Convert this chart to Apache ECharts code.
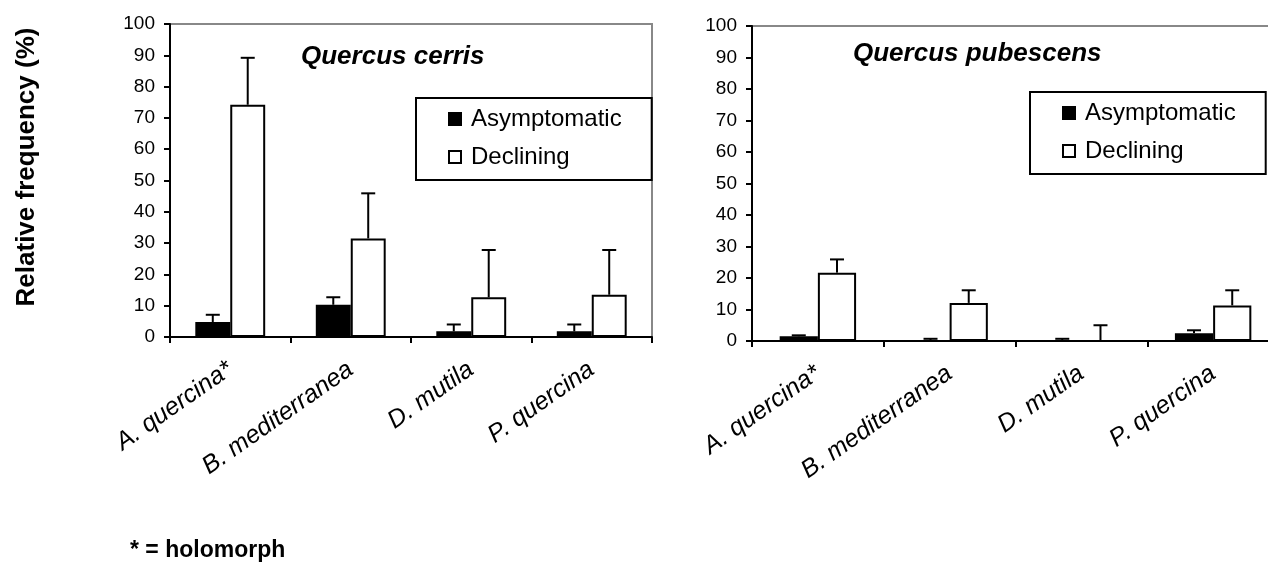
<!DOCTYPE html>
<html>
<head>
<meta charset="utf-8">
<script src="https://cdn.jsdelivr.net/npm/echarts@6/dist/echarts.min.js"></script>
<style>
  html, body { margin: 0; padding: 0; background: #fff; }
  #chart { width: 1268px; height: 567px; }
</style>
</head>
<body>
<div id="chart"></div>
<script>
// data
var categories = ['A. quercina*', 'B. mediterranea', 'D. mutila', 'P. quercina'];
var yTicks = [0, 10, 20, 30, 40, 50, 60, 70, 80, 90, 100];

// Quercus cerris
var cerrisAsym = [4.8, 10.3, 1.8, 1.8];
var cerrisAsymErr = [2.3, 2.4, 2.2, 2.2];
var cerrisDecl = [74.2, 31.5, 12.7, 13.5];
var cerrisDeclErr = [15.0, 14.4, 15.1, 14.3];

// Quercus pubescens
var pubAsym = [1.5, 0, 0, 2.5];
var pubAsymErr = [0.3, 0.7, 0.7, 0.9];
var pubDecl = [21.7, 12.1, 0, 11.3];
var pubDeclErr = [4.2, 4.0, 5.0, 4.8];

var FONT = "'Liberation Sans', Arial, sans-serif";

var errData = function (vals, errs, side) {
  var out = [];
  for (var i = 0; i < vals.length; i++) {
    out.push([i, vals[i] + errs[i], vals[i], side]);
  }
  return out;
};

// upper error bar only, drawn over the bar of one side
var renderErr = function (params, api) {
  var cat = api.value(0);
  var w = api.size([1, 0])[0];
  var x = api.coord([cat, 0])[0] + api.value(3) * w * 0.145;
  var yTop = api.coord([cat, api.value(1)])[1];
  var yBase = api.coord([cat, api.value(2)])[1];
  var st = { stroke: '#000', lineWidth: 2 };
  return {
    type: 'group',
    children: [
      { type: 'line', shape: { x1: x, y1: yBase, x2: x, y2: yTop }, style: st },
      { type: 'line', shape: { x1: x - 7, y1: yTop, x2: x + 7, y2: yTop }, style: st }
    ]
  };
};

var xAxisFor = function (idx) {
  return {
    type: 'category', gridIndex: idx, data: categories,
    axisLine: { lineStyle: { color: '#000', width: 2 } },
    axisTick: { show: true, length: 6, lineStyle: { color: '#000', width: 2 } },
    axisLabel: {
      interval: 0, rotate: 35, margin: 30, color: '#000',
      fontSize: 25, fontStyle: 'italic', fontFamily: FONT
    }
  };
};

var yAxisFor = function (idx) {
  return {
    type: 'value', gridIndex: idx, min: yTicks[0], max: yTicks[yTicks.length - 1], interval: 10,
    splitLine: { show: false },
    axisLine: { show: true, lineStyle: { color: '#000', width: 2 } },
    axisTick: { show: true, length: 6, lineStyle: { color: '#000', width: 2 } },
    axisLabel: { color: '#000', fontSize: 19, fontFamily: FONT, margin: 15 }
  };
};

var asymStyle = { color: '#000', borderColor: '#000', borderWidth: 2 };
var declStyle = { color: '#fff', borderColor: '#000', borderWidth: 2 };

var legendFor = function (left, top) {
  return {
    left: left, top: top, orient: 'vertical',
    data: ['Asymptomatic', 'Declining'],
    icon: 'rect', itemWidth: 12, itemHeight: 12, itemGap: 14,
    padding: [9, 30, 11, 32],
    borderColor: '#000', borderWidth: 2,
    textStyle: { color: '#000', fontSize: 24, fontFamily: FONT, padding: [0, 0, 0, 5] }
  };
};

var titleStyle = { fontSize: 26, fontWeight: 'bold', fontStyle: 'italic', fontFamily: FONT, color: '#000' };

var chart = echarts.init(document.getElementById('chart'));

chart.setOption({
  animation: false,
  backgroundColor: '#fff',
  title: [
    { text: 'Quercus cerris', left: 296, top: 39, textStyle: titleStyle },
    { text: 'Quercus pubescens', left: 848, top: 36, textStyle: titleStyle }
  ],
  legend: [legendFor(416, 98), legendFor(1030, 92)],
  grid: [
    { left: 170, width: 482, top: 24, height: 313, outerBoundsMode: 'none',
      show: true, borderColor: '#888', borderWidth: 2, backgroundColor: 'transparent' },
    { left: 752, width: 527, top: 26, height: 315, outerBoundsMode: 'none',
      show: true, borderColor: '#888', borderWidth: 2, backgroundColor: 'transparent' }
  ],
  xAxis: [xAxisFor(0), xAxisFor(1)],
  yAxis: [yAxisFor(0), yAxisFor(1)],
  series: [
    { name: 'Asymptomatic', type: 'bar', xAxisIndex: 0, yAxisIndex: 0, data: cerrisAsym,
      barGap: 0, barCategoryGap: '42%', itemStyle: asymStyle },
    { name: 'Declining', type: 'bar', xAxisIndex: 0, yAxisIndex: 0, data: cerrisDecl,
      barGap: 0, barCategoryGap: '42%', itemStyle: declStyle },
    { name: 'Asymptomatic', type: 'custom', xAxisIndex: 0, yAxisIndex: 0, z: 5,
      renderItem: renderErr, data: errData(cerrisAsym, cerrisAsymErr, -1) },
    { name: 'Declining', type: 'custom', xAxisIndex: 0, yAxisIndex: 0, z: 5,
      renderItem: renderErr, data: errData(cerrisDecl, cerrisDeclErr, 1) },

    { name: 'Asymptomatic', type: 'bar', xAxisIndex: 1, yAxisIndex: 1, data: pubAsym,
      barGap: 0, barCategoryGap: '42%', itemStyle: asymStyle },
    { name: 'Declining', type: 'bar', xAxisIndex: 1, yAxisIndex: 1, data: pubDecl,
      barGap: 0, barCategoryGap: '42%', itemStyle: declStyle },
    { name: 'Asymptomatic', type: 'custom', xAxisIndex: 1, yAxisIndex: 1, z: 5,
      renderItem: renderErr, data: errData(pubAsym, pubAsymErr, -1) },
    { name: 'Declining', type: 'custom', xAxisIndex: 1, yAxisIndex: 1, z: 5,
      renderItem: renderErr, data: errData(pubDecl, pubDeclErr, 1) }
  ],
  graphic: [
    { type: 'text', x: 27, y: 167, rotation: Math.PI / 2,
      style: { text: 'Relative frequency (%)', fill: '#000', font: 'bold 26px ' + FONT,
        textAlign: 'center', textVerticalAlign: 'middle' } },
    { type: 'text', x: 130, y: 551,
      style: { text: '* = holomorph', fill: '#000', font: 'bold 23px ' + FONT,
        textAlign: 'left', textVerticalAlign: 'middle' } }
  ]
});
</script>
</body>
</html>
